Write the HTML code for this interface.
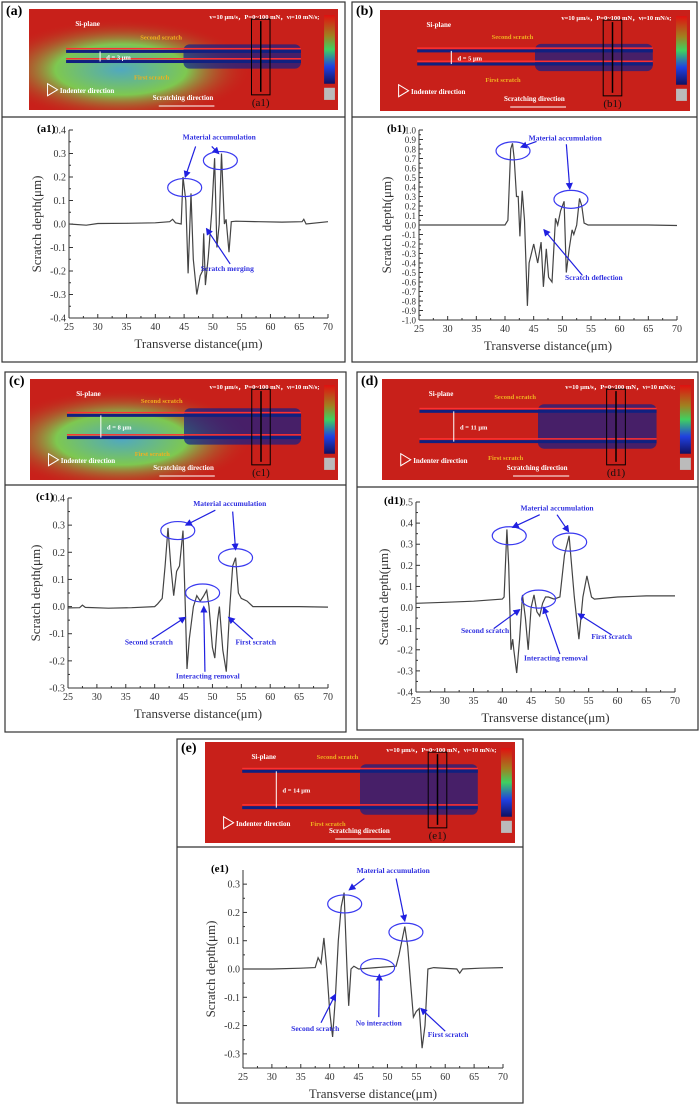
<!DOCTYPE html>
<html><head><meta charset="utf-8">
<style>
html,body{margin:0;padding:0;background:#fff;}
svg{display:block;font-family:"Liberation Serif",serif;}
</style></head>
<body>
<svg id="fig" width="700" height="1106" viewBox="0 0 700 1106" xmlns="http://www.w3.org/2000/svg">
<defs>
<radialGradient id="greenA" cx="0.35" cy="0.6" r="0.5"><stop offset="0" stop-color="#50a8c0"/><stop offset="0.5" stop-color="#7ec850"/><stop offset="1" stop-color="#c8201a" stop-opacity="0"/></radialGradient>
<linearGradient id="cbar" x1="0" y1="0" x2="0" y2="1"><stop offset="0" stop-color="#e01010"/><stop offset="0.3" stop-color="#a08020"/><stop offset="0.5" stop-color="#40d060"/><stop offset="0.75" stop-color="#2040e0"/><stop offset="1" stop-color="#101060"/></linearGradient>
</defs>
</svg>
<script>
// ---- data arrays (top level) ----
const xTickLabels=[25,30,35,40,45,50,55,60,65,70];
const a1X=[25,28,30,35,40,42.5,43,43.5,44.5,44.8,45.3,45.7,46.2,46.6,47.2,47.8,48.2,48.4,48.7,49.2,49.8,50.3,50.7,51.1,51.5,52.0,52.3,52.8,53.2,54,58,62,65.5,65.8,66.2,70];
const a1Y=[0,-0.005,0.002,0.003,0.005,0.01,0.02,0.005,0.0,0.2,0.1,-0.21,0.13,-0.15,-0.3,-0.22,-0.2,-0.04,-0.26,-0.14,0.05,0.28,-0.1,0.0,0.3,0.0,0.02,-0.12,0.01,0.012,0.01,0.008,0.01,0.02,0.0,0.01];
const b1X=[25,30,35,40,40.5,41,41.3,41.6,42,42.3,42.6,43,43.4,43.9,44.2,45,45.7,46.3,46.7,47.2,47.6,48.2,48.8,49.2,49.7,50.3,50.7,51.2,51.7,52,52.5,53,53.4,53.8,54.5,60,65,70];
const b1Y=[0,0,0,0,0.05,0.8,0.86,0.7,0.3,0.3,-0.12,0.36,0.05,-0.85,-0.4,-0.2,-0.4,-0.18,-0.65,-0.25,-0.55,-0.6,0.07,0.0,0.15,0.25,-0.5,-0.25,-0.05,-0.1,0.0,0.28,0.2,0.02,0.0,0.0,0.0,-0.005];
const c1X=[25,27,27.5,28,32,36,40,40.5,41.3,41.8,42.3,42.8,43.3,43.8,44.3,44.9,45.3,45.6,46,46.7,47.3,47.9,48.5,49,49.4,50,50.4,50.9,51.2,51.8,52.4,53,53.5,54,54.5,55,56,57,60,65,70];
const c1Y=[-0.005,-0.004,0.005,-0.003,-0.006,-0.004,0.0,0.01,0.03,0.15,0.29,0.15,0.04,0.13,0.15,0.28,0.0,-0.23,-0.12,0.0,0.04,0.02,0.04,0.06,0.0,-0.15,-0.19,-0.05,0.0,-0.16,-0.24,0.0,0.15,0.18,0.05,0.03,0.02,0.0,0.0,0.0,-0.002];
const d1X=[25,30,35,40,40.3,40.8,41.1,41.5,41.8,42,42.5,43,43.5,44,44.5,45,45.5,46,46.5,47,47.5,48,49,50,50.8,51.6,52.5,53.3,54,54.7,55.5,56,60,65,70];
const d1Y=[0.02,0.025,0.03,0.04,0.05,0.37,0.2,-0.2,-0.15,-0.2,-0.31,-0.15,0.06,-0.05,-0.2,0.0,0.06,-0.02,-0.04,0.02,0.05,0.05,0.04,0.05,0.25,0.34,0.05,-0.15,0.05,0.15,0.05,0.04,0.05,0.055,0.055];
const e1X=[25,30,35,37.5,38,38.5,39,39.5,40,40.5,41,41.5,42,42.5,43,43.3,43.7,44.2,45,48,51.5,52,52.5,53,53.5,54,54.5,55,55.5,56,56.5,57,58,62,62.5,63,66,70];
const e1Y=[0,0,0.003,0.005,0.04,0.02,0.11,0.0,-0.15,-0.24,-0.1,0.1,0.22,0.27,0.0,-0.13,0.0,0.01,0.0,0.005,0.01,0.05,0.1,0.15,0.08,-0.05,-0.17,-0.15,-0.14,-0.28,-0.2,0.0,0.005,0.0,-0.015,0.0,0.003,0.005];

const NS="http://www.w3.org/2000/svg";
const svg=document.getElementById('fig');
function mk(tag,attrs,parent){const e=document.createElementNS(NS,tag);for(const k in attrs)e.setAttribute(k,attrs[k]);(parent||svg).appendChild(e);return e;}
function txt(s,attrs,parent){const e=mk('text',attrs,parent);e.textContent=s;return e;}

const panels=[
 {id:'a',box:[2,2,343,360],div:117,img:[29,9,309,101],plot:[69,130,328,318],ymin:-0.4,ymax:0.4,step:0.1,xs:a1X,ys:a1Y,green:true,gap:0.1,
  ells:[[45.1,0.155],[51.3,0.27]],acc:[51.1,0.36],accArrows:[[47,0.33,45.2,0.2],[49.8,0.33,51,0.3]],
  notes:[['Scratch merging',52.5,-0.2,[53,-0.17,48.9,-0.02]]]},
 {id:'b',box:[352,2,345,360],div:117,img:[380,10,310,101],plot:[419,130,677,320],ymin:-1.0,ymax:1.0,step:0.1,xs:b1X,ys:b1Y,green:false,gap:0.13,
  ells:[[41.4,0.78],[51.5,0.27]],acc:[50.5,0.89],accArrows:[[45.5,0.88,42.8,0.82],[50.7,0.85,51.3,0.38]],
  notes:[['Scratch deflection',55.5,-0.58,[53.5,-0.53,46.8,-0.05]]]},
 {id:'c',box:[5,372,341,360],div:485,img:[30,379,308,101],plot:[68,498,328,688],ymin:-0.3,ymax:0.4,step:0.1,xs:c1X,ys:c1Y,green:true,gap:0.22,
  ells:[[44,0.28],[48.3,0.05],[54,0.18]],acc:[53,0.37],accArrows:[[50.5,0.355,45.4,0.3],[53.5,0.35,54,0.21]],
  notes:[['Second scratch',39,-0.14,[39.5,-0.12,45.3,-0.04]],['First scratch',57.5,-0.14,[57,-0.12,52.8,-0.04]],['Interacting removal',49.2,-0.265,[48.7,-0.24,48.5,0.0]]]},
 {id:'d',box:[357,372,341,358],div:487,img:[382,379,312,101],plot:[416,502,675,692],ymin:-0.4,ymax:0.5,step:0.1,xs:d1X,ys:d1Y,green:false,gap:0.3,
  ells:[[41.2,0.34],[51.7,0.31],[46.3,0.04]],acc:[49.5,0.46],accArrows:[[46.5,0.44,41.8,0.38],[49.5,0.44,51.5,0.36]],
  notes:[['Second scratch',37,-0.12,[38.5,-0.1,43,-0.01]],['First scratch',59,-0.15,[59,-0.13,53.2,-0.03]],['Interacting removal',49.3,-0.25,[50,-0.22,47.2,0.0]]]},
 {id:'e',box:[177,739,346,364],div:847,img:[205,742,310,101],plot:[243,870,503,1068],ymin:-0.35,ymax:0.35,step:0.1,tmin:-0.3,tmax:0.3,xs:e1X,ys:e1Y,green:false,gap:0.36,
  ells:[[42.6,0.23],[53.2,0.13],[48.3,0.005]],acc:[51,0.34],accArrows:[[46,0.32,43.4,0.28],[51.5,0.32,53,0.17]],
  notes:[['Second scratch',37.5,-0.22,[38.5,-0.19,41,-0.09]],['No interaction',48.5,-0.2,[48.5,-0.17,48.6,-0.02]],['First scratch',60.5,-0.24,[60,-0.22,55.8,-0.14]]]}
];

mk('defs',{}).innerHTML='<marker id="arr" markerWidth="6" markerHeight="6" refX="5" refY="3" orient="auto"><path d="M0,0 L6,3 L0,6 z" fill="#2020e0"/></marker>';

panels.forEach(p=>{
 const g=mk('g',{});
 
 
 const [bx,by,bw,bh]=p.box;
 const frame=mk('rect',{x:bx,y:by,width:bw,height:bh,fill:'none',stroke:'#333','stroke-width':1.2},g);
 
 
 mk('line',{x1:bx,x2:bx+bw,y1:p.div,y2:p.div,stroke:'#333','stroke-width':1.2},g);
 const lab=txt('('+p.id+')',{x:bx+4,y:by+13,'font-size':14,'font-weight':'bold'},g);
 
 
 const [ix,iy,iw,ih]=p.img;
 const im=mk('g',{},g);
 
 
 mk('rect',{x:ix,y:iy,width:iw,height:ih,fill:'#c8201a'},im);
 if(p.green) mk('rect',{x:ix,y:iy,width:iw*0.85,height:ih,fill:'url(#greenA)'},im);
 const cy=iy+ih*0.47, s1=cy-ih*p.gap/2, s2=cy+ih*p.gap/2;
 mk('rect',{x:ix+iw*0.5,y:s1-ih*0.07,width:iw*0.38,height:(s2-s1)+ih*0.14,fill:'#10208a',opacity:0.7,rx:6},im);
 [s1,s2].forEach(sy=>{mk('rect',{x:ix+iw*0.12,y:sy-1.5,width:iw*0.76,height:3,fill:'#102080'},im);
   mk('rect',{x:ix+iw*0.12,y:sy-3.5,width:iw*0.76,height:1.5,fill:'#ff3030'},im);});
 mk('rect',{x:ix+iw*0.72,y:iy+ih*0.1,width:iw*0.06,height:ih*0.75,fill:'none',stroke:'#000','stroke-width':1},im);
 mk('line',{x1:ix+iw*0.75,x2:ix+iw*0.75,y1:iy+ih*0.12,y2:iy+ih*0.82,stroke:'#000','stroke-width':1.5},im);
 txt('('+p.id+'1)',{x:ix+iw*0.75,y:iy+ih*0.96,'font-size':11,'text-anchor':'middle',fill:'#111'},im);
 mk('rect',{x:ix+iw*0.955,y:iy+ih*0.06,width:iw*0.035,height:ih*0.68,fill:'url(#cbar)'},im);
 mk('rect',{x:ix+iw*0.955,y:iy+ih*0.78,width:iw*0.035,height:ih*0.12,fill:'#bbb'},im);
 txt('Si-plane',{x:ix+iw*0.15,y:iy+ih*0.17,'font-size':7,'font-weight':'bold',fill:'#fff'},im);
 txt('v=10 μm/s，P=0~100 mN，vₗ=10 mN/s;',{x:ix+iw*0.94,y:iy+ih*0.1,'font-size':6.5,'font-weight':'bold',fill:'#fff','text-anchor':'end'},im);
 txt('Second scratch',{x:ix+iw*0.36,y:s1-ih*0.12,'font-size':6.5,'font-weight':'bold',fill:'#f0b020'},im);
 txt('First scratch',{x:ix+iw*0.34,y:s2+ih*0.18,'font-size':6.5,'font-weight':'bold',fill:'#f0b020'},im);
 txt('d = '+({a:3,b:5,c:8,d:11,e:14})[p.id]+' μm',{x:ix+iw*0.25,y:cy+3,'font-size':6.5,'font-weight':'bold',fill:'#fff'},im);
 mk('line',{x1:ix+iw*0.23,x2:ix+iw*0.23,y1:s1,y2:s2,stroke:'#fff','stroke-width':1},im);
 mk('path',{d:`M${ix+iw*0.06},${iy+ih*0.74} l10,6 l-10,6 z`,fill:'none',stroke:'#fff','stroke-width':1},im);
 txt('Indenter direction',{x:ix+iw*0.1,y:iy+ih*0.83,'font-size':7,'font-weight':'bold',fill:'#fff'},im);
 txt('Scratching direction',{x:ix+iw*0.4,y:iy+ih*0.9,'font-size':7,'font-weight':'bold',fill:'#fff'},im);
 mk('line',{x1:ix+iw*0.42,x2:ix+iw*0.6,y1:iy+ih*0.96,y2:iy+ih*0.96,stroke:'#fff','stroke-width':1},im);
 const [x0,y0,x1,y1]=p.plot;
 const sx=v=>x0+(v-25)/(70-25)*(x1-x0);
 const sy=v=>y1-(v-p.ymin)/(p.ymax-p.ymin)*(y1-y0);
 const ch=mk('g',{},g);
 
 
 mk('line',{x1:x0,x2:x0,y1:y0,y2:y1,stroke:'#333','stroke-width':1},ch);
 mk('line',{x1:x0,x2:x1,y1:y1,y2:y1,stroke:'#333','stroke-width':1},ch);
 xTickLabels.forEach(t=>{const X=sx(t);mk('line',{x1:X,x2:X,y1:y1,y2:y1-4,stroke:'#333'},ch);
  if(t<70) mk('line',{x1:sx(t+2.5),x2:sx(t+2.5),y1:y1,y2:y1-2,stroke:'#333'},ch);
  const tl=txt(String(t),{x:X,y:y1+12,'font-size':10,'text-anchor':'middle',fill:'#333'},ch);
  
  });
 const tmin=p.tmin!==undefined?p.tmin:p.ymin, tmax=p.tmax!==undefined?p.tmax:p.ymax;
 const n=Math.round((tmax-tmin)/p.step);
 for(let i=0;i<=n;i++){const v=tmin+i*p.step;const Y=sy(v);
  mk('line',{x1:x0,x2:x0+4,y1:Y,y2:Y,stroke:'#333'},ch);
  if(i<n) mk('line',{x1:x0,x2:x0+2,y1:sy(v+p.step/2),y2:sy(v+p.step/2),stroke:'#333'},ch);
  const s=(Math.abs(v)<1e-9?0:v).toFixed(1);
  const tl=txt(s,{x:x0-3,y:Y+3.5,'font-size':p.id==='b'?9:10,'text-anchor':'end',fill:'#333'},ch);
  
  }
 const xt=txt('Transverse distance(μm)',{x:(x0+x1)/2,y:y1+30,'font-size':13,'text-anchor':'middle',fill:'#333'},ch);
 
 
 const yt=txt('Scratch depth(μm)',{x:0,y:0,'font-size':13,'text-anchor':'middle',fill:'#333',transform:`translate(${x0-28},${(y0+y1)/2}) rotate(-90)`},ch);
 
 
 const sub=txt('('+p.id+'1)',{x:x0-32,y:y0+2,'font-size':11,'font-weight':'bold'},ch);
 
 
 const d=p.xs.map((x,i)=>(i?'L':'M')+sx(x).toFixed(1)+','+sy(p.ys[i]).toFixed(1)).join(' ');
 const line=mk('path',{d:d,fill:'none',stroke:'#444','stroke-width':1.2},ch);
 
 
 p.ells.forEach(e=>{const el=mk('ellipse',{cx:sx(e[0]),cy:sy(e[1]),rx:17,ry:9,fill:'none',stroke:'#3a3af0','stroke-width':1.2},ch);
  
  });
 const at=txt('Material accumulation',{x:sx(p.acc[0]),y:sy(p.acc[1]),'font-size':7.5,'font-weight':'bold',fill:'#3030e0','text-anchor':'middle'},ch);
 
 
 p.accArrows.forEach(a=>mk('line',{x1:sx(a[0]),y1:sy(a[1]),x2:sx(a[2]),y2:sy(a[3]),stroke:'#2020e0','stroke-width':1.2,'marker-end':'url(#arr)'},ch));
 p.notes.forEach(nt=>{const t=txt(nt[0],{x:sx(nt[1]),y:sy(nt[2]),'font-size':7.5,'font-weight':'bold',fill:'#3030e0','text-anchor':'middle'},ch);
  
  
  const a=nt[3];mk('line',{x1:sx(a[0]),y1:sy(a[1]),x2:sx(a[2]),y2:sy(a[3]),stroke:'#2020e0','stroke-width':1.2,'marker-end':'url(#arr)'},ch);});
});
</script>
</body></html>
